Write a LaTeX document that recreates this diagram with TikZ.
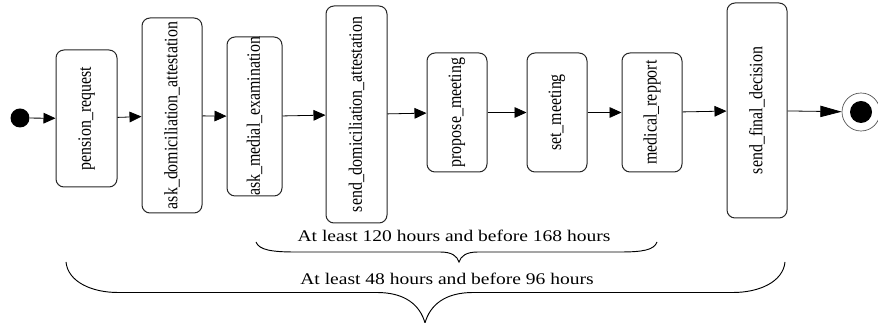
\documentclass[tikz,border=0pt]{standalone}
\usepackage{fontspec}
\setmainfont{Liberation Serif}
\newfontfamily\widefont[FakeStretch=1.2]{Liberation Serif}
\newfontfamily\narrowfont[FakeStretch=0.84]{Liberation Serif}
\usetikzlibrary{arrows.meta}

\begin{document}
\begin{tikzpicture}[x=0.75pt, y=-0.75pt,
  state/.style={draw=black!85, line width=0.75pt, rounded corners=6pt,
    inner sep=0pt, font=\narrowfont\fontsize{14.2}{16}\selectfont},
  edge/.style={-{Triangle[length=9pt,width=8pt]}, line width=0.6pt},
  brace/.style={line width=0.7pt},
  bracelabel/.style={anchor=base, font=\widefont\fontsize{12.2}{14}\selectfont}]
  \useasboundingbox (0,0) rectangle (878,323);

  % Start and end points
  \node[circle, fill=black, minimum size=14.25pt, inner sep=0pt] (start) at (20,118) {};
  \node[circle, draw=black!70, line width=0.5pt, minimum size=28.5pt, inner sep=0pt] (stop) at (861,112) {};
  \fill (stop) circle (8.25pt);

  % Activity boxes, text turned upright
  \foreach \name/\x/\y/\w/\h/\label in {
    pension/86.5/118.5/61/137/pension\_request,
    askdom/172/115.5/60/195/ask\_domiciliation\_attestation,
    askmed/254.5/116.5/55/157/ask\_medial\_examination,
    senddom/356.5/114.5/61/217/send\_domiciliation\_attestation,
    propose/457/112.5/60/119/propose\_meeting,
    setmeet/557/112.5/60/119/set\_meeting,
    report/652/112.5/60/119/medical\_repport,
    decision/757/110.5/60/215/send\_final\_decision} {
    \node[state, minimum width=\w*0.75pt, minimum height=\h*0.75pt] (\name) at (\x,\y)
      {\rotatebox{90}{\label}};
  }

  % Transitions
  \foreach \a/\b in {start/pension, pension/askdom, askdom/askmed, askmed/senddom,
    senddom/propose, propose/setmeet, setmeet/report, report/decision}
    \draw[edge] (\a) -- (\b);
  \draw[edge, -{Triangle[length=16pt,width=8.5pt]}] (decision) -- (stop);

  % Upper brace
  \draw[brace] (256,242) .. controls (259,250) and (272,252) .. (295,252) -- (440,252)
    .. controls (452,252) and (457,256) .. (459,262)
    .. controls (461,256) and (466,252) .. (478,252) -- (620,252)
    .. controls (643,252) and (654,250) .. (657,242);
  \node[bracelabel] (upperlabel) at (454,242) {At least 120 hours and before 168 hours};

  % Lower brace
  \draw[brace] (66,262) .. controls (68,282) and (92,292.5) .. (118,292.5) -- (377,292.5)
    .. controls (405,292.5) and (420,305) .. (425,323)
    .. controls (430,305) and (445,292.5) .. (473,292.5) -- (733,292.5)
    .. controls (759,292.5) and (783,282) .. (785,262);
  \node[bracelabel] (lowerlabel) at (447,285) {At least 48 hours and before 96 hours};
\end{tikzpicture}
\end{document}
